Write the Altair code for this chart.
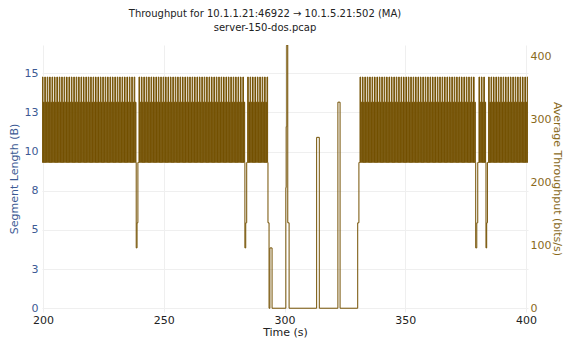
import altair as alt
import pandas as pd

# ---------------- data ----------------
# level codes used in the dense polling periods (bits/s)
LEVELS = {"L": 232, "H": 328, "T": 368}
STEP = 0.25  # seconds between samples in dense periods

seg_a_start = 199.5
seg_a = ("LTLHLTLHLTLHLTLHLTLHLTLHLTLHLTLHLTLHLTLH"
         "LTLHLTLHLTLHLTLHLTLHLTLHLTLHLTLHLTLHLTLH"
         "LTLHLTLHLTLHLTLHLTLHLTLHLTLHLTLHLTLHLTLH"
         "LTLHLTLHLTLHLTLHLTLHLTLHLTLHLTLHLTLH"
         "L")
dip1_t = [238.6, 238.95, 239.3]
dip1_v = [96, 136, 232]

seg_b_start = 239.5
seg_b = ("LTLHLTLHLTLHLTLHLTLHLTLHLTLHLTLHLTLHLTLH"
         "LTLHLTLHLTLHLTLHLTLHLTLHLTLHLTLHLTLHLTLH"
         "LTLHLTLHLTLHLTLHLTLHLTLHLTLHLTLHLTLHLTLH"
         "LTLHLTLHLTLHLTLHLTLHLTLHLTLHLTLHLTLHLTLH"
         "LTLHLTLHLTLHLTLH"
         "L")
dip2_t = [283.6, 283.95, 284.35]
dip2_v = [96, 136, 232]

seg_c_start = 284.5
seg_c = ("LTLHLTLHLTLHLTLHLTLHLTLHLTLHLTLH"
         "LTL")

# the attack / outage period
gap_t = [293.15, 293.6, 293.95, 294.85, 300.55, 300.7, 300.95, 301.35, 301.9,
         313.3, 314.4, 322.1, 323.0, 330.3, 330.8]
gap_v = [136, 0, 96, 0, 192, 289, 419, 136, 0,
         272, 0, 328, 0, 136, 232]

seg_d_start = 331.0
seg_d = ("LTLHLTLHLTLHLTLHLTLHLTLHLTLHLTLHLTLHLTLH"
         "LTLHLTLHLTLHLTLHLTLHLTLHLTLHLTLHLTLHLTLH"
         "LTLHLTLHLTLHLTLHLTLHLTLHLTLHLTLHLTLHLTLH"
         "LTLHLTLHLTLHLTLHLTLHLTLHLTLHLTLHLTLHLTLH"
         "LTLHLTLHLTLHLTLHLTLHLTLHLTLHLTLH"
         "L")
dip3_t = [379.15, 379.6, 380.0]
dip3_v = [96, 136, 232]

seg_e_start = 380.25
seg_e = "LTLHLTLHLTLHL"
dip4_t = [383.4, 383.7, 384.0]
dip4_v = [96, 136, 232]

seg_f_start = 384.25
seg_f = ("LTLHLTLHLTLHLTLHLTLHLTLHLTLHLTLHLTLHLTLH"
         "LTLHLTLHLTLHLTLHLTLHLTLHLTLHLTLH")

x_ticks = [200, 250, 300, 350, 400]
left_ticks = [0, 2.5, 5, 7.5, 10, 12.5, 15]
right_ticks = [0, 100, 200, 300, 400]

# ---------------- build table ----------------
times, values = [], []


def add_segment(start, codes):
    for i, c in enumerate(codes):
        times.append(start + i * STEP)
        values.append(LEVELS[c])


def add_points(ts, vs):
    times.extend(ts)
    values.extend(vs)


add_segment(seg_a_start, seg_a)
add_points(dip1_t, dip1_v)
add_segment(seg_b_start, seg_b)
add_points(dip2_t, dip2_v)
add_segment(seg_c_start, seg_c)
add_points(gap_t, gap_v)
add_segment(seg_d_start, seg_d)
add_points(dip3_t, dip3_v)
add_segment(seg_e_start, seg_e)
add_points(dip4_t, dip4_v)
add_segment(seg_f_start, seg_f)

df = pd.DataFrame({"t": times, "v": values}).sort_values("t").reset_index(drop=True)
df_left = pd.DataFrame({"t": [200.0], "s": [0.0]})

FONT = "DejaVu Sans"
BLUE = "#3c5a94"
BROWN = "#8a6a1c"
LINE = "#735000"
GRID = "#efefef"

x_scale = alt.Scale(domain=[199.6, 400.8], nice=False, zero=False)
x_axis = alt.Axis(values=x_ticks, title="Time (s)", grid=True, gridColor=GRID,
                  domain=False, ticks=False, labelColor="#222222", titleColor="#222222",
                  labelFont=FONT, titleFont=FONT, labelFontSize=11, titleFontSize=11,
                  titleFontWeight="normal", labelPadding=2, titlePadding=1, labelFlush=False)

left = alt.Chart(df_left).mark_point(opacity=0).encode(
    x=alt.X("t:Q", scale=x_scale, axis=x_axis),
    y=alt.Y("s:Q", scale=alt.Scale(domain=[-0.24, 16.8], nice=False, zero=False),
            axis=alt.Axis(orient="left", values=left_ticks, labelExpr="round(datum.value)",
                          title="Segment Length (B)", grid=True, gridColor=GRID,
                          domain=False, ticks=False, labelColor=BLUE, titleColor=BLUE,
                          labelFont=FONT, titleFont=FONT, labelFontSize=11, titleFontSize=11,
                          titleFontWeight="normal", labelPadding=4, titlePadding=5)),
)

line = alt.Chart(df).mark_line(interpolate="step-after", color=LINE, strokeWidth=1, clip=True).encode(
    x=alt.X("t:Q", scale=x_scale, axis=x_axis),
    y=alt.Y("v:Q", scale=alt.Scale(domain=[-6, 419], nice=False, zero=False),
            axis=alt.Axis(orient="right", values=right_ticks, title="Average Throughput (bits/s)",
                          grid=False, domain=False, ticks=False, labelColor=BROWN, titleColor=BROWN,
                          labelFont=FONT, titleFont=FONT, labelFontSize=11, titleFontSize=11,
                          titleFontWeight="normal", labelPadding=2, titlePadding=1)),
)

chart = alt.layer(left, line).resolve_scale(y="independent").properties(
    width=486, height=267,
    padding={"left": 34, "top": 37, "right": 35, "bottom": 27},
    autosize=alt.AutoSizeParams(type="none"),
    title=alt.TitleParams(
        text="Throughput for 10.1.1.21:46922 → 10.1.5.21:502 (MA)",
        subtitle="server-150-dos.pcap",
        font=FONT, subtitleFont=FONT, fontSize=10, subtitleFontSize=10,
        fontWeight="normal", color="#222222", subtitleColor="#222222",
        anchor="middle", dx=-20, offset=12, subtitlePadding=4,
    ),
).configure_view(stroke=None)

chart.save("out.html", embed_options={"renderer": "svg", "actions": False})
